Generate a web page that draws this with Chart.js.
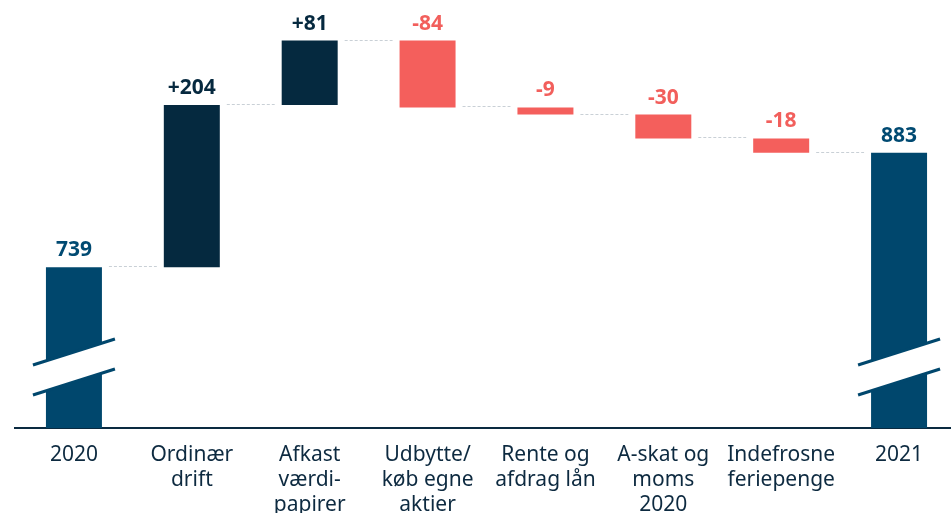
<!DOCTYPE html>
<html><head><meta charset="utf-8">
<script src="https://cdn.jsdelivr.net/npm/chart.js@4/dist/chart.umd.min.js"></script>
<style>html,body{margin:0;padding:0;overflow:hidden;background:#fff;}
#wrap{width:958px;height:513px;position:relative;}</style>
</head><body><div id="wrap"><canvas id="c"></canvas></div>
<script>
// ---- data ----
const categories = [["2020"],["Ordinær","drift"],["Afkast","værdi-","papirer"],["Udbytte/","køb egne","aktier"],["Rente og","afdrag lån"],["A-skat og","moms","2020"],["Indefrosne","feriepenge"],["2021"]];
const startTotal = 739;
const changes = [204, 81, -84, -9, -30, -18];
const endTotal = 883;
const valueLabels = ["739","+204","+81","-84","-9","-30","-18","883"];
const axisMin = 537;
const axisMax = 1075;

// ---- styles ----
const COL_TOTAL = '#00476d';
const COL_UP = '#05293f';
const COL_DOWN = '#f45f5c';
const FONT = '"Noto Sans", "Open Sans", sans-serif';

// build floating bars
const floating = [];
const kinds = [];
floating.push([axisMin, startTotal]); kinds.push('total');
let run = startTotal;
changes.forEach(c => { floating.push([run, run + c]); kinds.push(c >= 0 ? 'up' : 'down'); run += c; });
floating.push([axisMin, endTotal]); kinds.push('total');
const levels = floating.map(d => d[1]);
const colors = kinds.map(k => k === 'total' ? COL_TOTAL : (k === 'up' ? COL_UP : COL_DOWN));
const labelColors = kinds.map(k => k === 'total' ? '#004a72' : (k === 'up' ? '#06293f' : '#f25f5c'));

const deco = {
  id: 'deco',
  afterDatasetsDraw(chart) {
    const ctx = chart.ctx;
    const meta = chart.getDatasetMeta(0);
    const ys = chart.scales.y;
    ctx.save();
    // connectors
    ctx.strokeStyle = '#c9d0d6';
    ctx.lineWidth = 1;
    ctx.setLineDash([3, 2]);
    for (let i = 0; i < meta.data.length - 1; i++) {
      const a = meta.data[i], b = meta.data[i + 1];
      const y = Math.round(ys.getPixelForValue(levels[i])) - 0.5;
      ctx.beginPath();
      ctx.moveTo(a.x + a.width / 2 + 7, y);
      ctx.lineTo(b.x - b.width / 2 - 7, y);
      ctx.stroke();
    }
    ctx.setLineDash([]);
    // axis breaks on total bars
    meta.data.forEach((bar, i) => {
      if (kinds[i] !== 'total') return;
      const cy = ys.bottom - 61;
      const hw = 41, dy = 13, gap = 15;
      ctx.fillStyle = '#ffffff';
      ctx.beginPath();
      ctx.moveTo(bar.x - hw, cy - gap + dy);
      ctx.lineTo(bar.x + hw, cy - gap - dy);
      ctx.lineTo(bar.x + hw, cy + gap - dy);
      ctx.lineTo(bar.x - hw, cy + gap + dy);
      ctx.closePath();
      ctx.fill();
      ctx.strokeStyle = COL_TOTAL;
      ctx.lineWidth = 3;
      [-gap, gap].forEach(o => {
        ctx.beginPath();
        ctx.moveTo(bar.x - hw, cy + o + dy);
        ctx.lineTo(bar.x + hw, cy + o - dy);
        ctx.stroke();
      });
    });
    // value labels
    ctx.font = 'bold 21px ' + FONT;
    ctx.textAlign = 'center';
    ctx.textBaseline = 'alphabetic';
    meta.data.forEach((bar, i) => {
      const top = Math.min(bar.y, bar.base);
      ctx.fillStyle = labelColors[i];
      ctx.fillText(valueLabels[i], bar.x, top - 11);
    });
    ctx.restore();
  }
};

new Chart(document.getElementById('c'), {
  type: 'bar',
  data: {
    labels: categories,
    datasets: [{
      data: floating,
      backgroundColor: colors,
      borderWidth: 0,
      barPercentage: 0.475,
      categoryPercentage: 1
    }]
  },
  options: {
    responsive: true,
    maintainAspectRatio: false,
    animation: false,
    layout: { padding: { left: 15, right: 0, top: 0, bottom: 0 } },
    plugins: { legend: { display: false }, tooltip: { enabled: false } },
    scales: {
      x: {
        grid: { display: false, drawTicks: false },
        border: { display: true, color: '#0a2a40', width: 2 },
        ticks: { color: '#0d2a40', font: { family: FONT, size: 21, lineHeight: 1.2 }, padding: 14, maxRotation: 0, autoSkip: false },
        afterFit(s) { s.height = 85; }
      },
      y: { display: false, min: axisMin, max: axisMax }
    }
  },
  plugins: [deco]
});
</script>
</body></html>
